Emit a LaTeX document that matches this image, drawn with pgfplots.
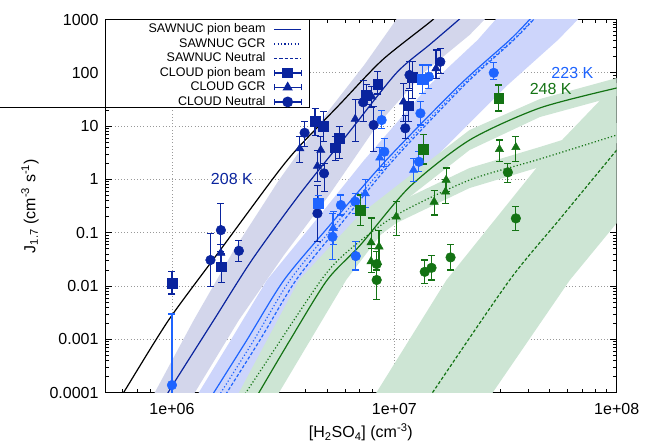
\documentclass[border=0pt]{standalone}
\usepackage{fontspec}
\setmainfont{Liberation Sans}
\usepackage{pgfplots}
\usepackage{pgfplotstable}
\pgfplotsset{compat=1.18}

\definecolor{cA}{RGB}{10,36,158}
\definecolor{cB}{RGB}{30,100,255}
\definecolor{cC}{RGB}{20,115,20}
\definecolor{bA}{RGB}{211,214,235}
\definecolor{bB}{RGB}{205,213,251}
\definecolor{bC}{RGB}{205,229,212}

\pgfplotsset{
  table/errtab/.style={x=x,y=y,y error plus expr=\thisrow{hi}-\thisrow{y},y error minus expr=\thisrow{y}-\thisrow{lo}},
  pts/.style={only marks, color=#1, mark options={solid, fill=#1, draw=#1, line width=0.5pt},
    error bars/y dir=both, error bars/y explicit,
    error bars/error bar style={line width=1.1pt, color=#1, solid},
    error bars/error mark options={rotate=90, mark size=3.5pt, line width=1.1pt, color=#1, solid}},
  legline/.style={legend image code/.code={\draw[##1] (0pt,0pt) -- (27pt,0pt);}},
  legmark/.style={legend image code/.code={%
    \draw[##1, mark repeat=2, mark phase=2] plot coordinates {(0pt,0pt) (13.5pt,0pt) (27pt,0pt)};
    \draw[##1, mark=none] (0pt,-3pt) -- (0pt,3pt) (27pt,-3pt) -- (27pt,3pt);}},
  dotl/.style={dash pattern=on 1.2pt off 2.2pt},
  dashl/.style={dash pattern=on 3.2pt off 2pt},
  mline/.style={line width=1.2pt, smooth, tension=0.45, forget plot},
}

% 208 K
\pgfplotstableread{
x y lo hi
1e6 0.0112 0.0071 0.0186
1.671e6 0.023 0.0115 0.04
4.40e6 12.5 6.8 21.6
4.80e6 10.0 5.1 18.6
5.42e6 3.94 2.3 6.3
5.65e6 5.9 2.5 9.8
7.47e6 38.3 25 60
8.41e6 60.8 40 105
1.16e7 24.2 12.1 47.5
1.202e7 82 33 161
}\pionA
\pgfplotstableread{
x y lo hi
1.66e6 0.0416 0.028 0.06
3.76e6 3.8 2.1 6.5
4.67e6 3.56 1.86 6.3
4.51e6 1.78 0.9 3.5
6.67e6 13.6 5.1 31
7.93e6 35.6 22 55
1.10e7 28.7 12.1 63.5
1.54e7 121 79 268
}\gcrA
\pgfplotstableread{
x y lo hi
1.49e6 0.0308 0.0097 0.0975
1.66e6 0.112 0.045 0.356
2.0e6 0.0459 0.0294 0.0708
3.95e6 7.5 4.1 12.1
4.83e6 1.30 0.59 2.0
4.51e6 0.231 0.068 0.785
7.24e6 28 12.1 73
8.07e6 10.5 3.3 23
1.12e7 9.1 5.9 16
1.17e7 91 50 160
1.61e7 161 98 288
}\neuA
% 223 K
\pgfplotstableread{
x y lo hi
4.54e6 0.356 0.25 0.5
1.334e7 76.5 41 140
}\pionB
\pgfplotstableread{
x y lo hi
5.31e6 0.122 0.06 0.25
7.4e6 0.548 0.3 1.0
8.6e6 2.55 1.5 4.0
1.22e7 1.50 0.91 2.49
}\gcrB
\pgfplotstableread{
x y lo hi
1.0e6 1.39e-4 1e-5 0.003
5.27e6 0.084 0.031 0.23
5.75e6 0.331 0.215 0.51
6.67e6 0.382 0.23 0.55
6.71e6 0.0365 0.02 0.068
8.77e6 13.0 9.2 20
9.02e6 3.31 1.73 5.9
1.29e7 2.15 1.4 3.3
1.31e7 17.4 10.5 28.7
1.43e7 84.5 51 140
2.80e7 100 75.5 155
}\neuB
% 248 K
\pgfplotstableread{
x y lo hi
7.03e6 0.267 0.139 0.51
1.35e7 3.72 1.95 7.0
2.95e7 33.2 19.2 59
}\pionC
\pgfplotstableread{
x y lo hi
7.86e6 0.0655 0.027 0.189
8.53e6 0.055 0.025 0.11
7.86e6 0.029 0.018 0.05
1.02e7 0.20 0.09 0.38
1.51e7 0.38 0.215 0.63
1.70e7 0.588 0.35 1.0
1.71e7 0.975 0.6 1.64
2.97e7 3.67 2.15 5.5
3.52e7 4.0 2.15 6.3
}\gcrC
\pgfplotstableread{
x y lo hi
8.33e6 0.0259 0.015 0.045
8.33e6 0.013 0.0055 0.02
1.37e7 0.0185 0.0112 0.0308
1.47e7 0.022 0.013 0.037
1.79e7 0.0345 0.02 0.0605
3.24e7 1.36 0.87 2.0
3.52e7 0.186 0.112 0.31
}\neuC

\begin{document}
\begin{tikzpicture}
\begin{axis}[
  name=ax,
  xmode=log, ymode=log,
  scale only axis, width=511.7pt, height=373.2pt,
  xmin=5e5, xmax=1e8, ymin=1e-4, ymax=1000,
  xtick={1e6,1e7,1e8}, xticklabels={1e+06,1e+07,1e+08},
  ytick={1e-4,1e-3,1e-2,1e-1,1,10,100,1000},
  yticklabels={0.0001,0.001,0.01,0.1,1,10,100,1000},
  minor xtick={6e5,7e5,8e5,9e5,2e6,3e6,4e6,5e6,6e6,7e6,8e6,9e6,2e7,3e7,4e7,5e7,6e7,7e7,8e7,9e7},
  minor ytick={2e-4,3e-4,4e-4,5e-4,6e-4,7e-4,8e-4,9e-4,2e-3,3e-3,4e-3,5e-3,6e-3,7e-3,8e-3,9e-3,
    2e-2,3e-2,4e-2,5e-2,6e-2,7e-2,8e-2,9e-2,0.2,0.3,0.4,0.5,0.6,0.7,0.8,0.9,2,3,4,5,6,7,8,9,
    20,30,40,50,60,70,80,90,200,300,400,500,600,700,800,900},
  tick align=inside,
  major tick length=7pt, minor tick length=4pt,
  every tick/.style={black, line width=0.8pt},
  axis line style={line width=1pt},
  grid=major,
  major grid style={line width=0.8pt, gray!80, dash pattern=on 0.8pt off 2.4pt},
  tick label style={font=\fontsize{16}{19}\selectfont},
  xticklabel style={yshift=-7pt},
  yticklabel style={xshift=-3pt},
  xlabel={[H\textsubscript{2}SO\textsubscript{4}] (cm\textsuperscript{-3})},
  ylabel={J\textsubscript{1.7} (cm\textsuperscript{-3} s\textsuperscript{-1})},
  label style={font=\fontsize{16}{19}\selectfont},
  xlabel style={at={(axis description cs:0.5,-0.1058)}, anchor=center},
  ylabel style={at={(axis description cs:-0.1466,0.5)}, anchor=center},
  legend plot pos=right,
  legend cell align=right,
  legend style={at={(axis description cs:0.3987,1)}, anchor=north east, draw=none, fill=none,
    font=\fontsize{12.5}{14}\selectfont, inner xsep=7pt, inner ysep=3pt, row sep=1pt,
    nodes={inner sep=1pt, text height=9pt, text depth=2.5pt},
    /tikz/every odd column/.append style={column sep=7pt}},
]
% legend entries
\addlegendimage{legline, cA, line width=1.3pt}
\addlegendentry{SAWNUC pion beam}
\addlegendimage{legline, cA, line width=1.3pt, dotl}
\addlegendentry{SAWNUC GCR}
\addlegendimage{legline, cA, line width=1.3pt, dashl}
\addlegendentry{SAWNUC Neutral}
\addlegendimage{legmark, cA, line width=1.2pt, mark=square*, mark size=4.8pt, mark options={solid, fill=cA}}
\addlegendentry{CLOUD pion beam}
\addlegendimage{legmark, cA, line width=1.2pt, mark=triangle*, mark size=4.8pt, mark options={solid, fill=cA}}
\addlegendentry{CLOUD GCR}
\addlegendimage{legmark, cA, line width=1.2pt, mark=*, mark size=4.8pt, mark options={solid, fill=cA}}
\addlegendentry{CLOUD Neutral}

% bands
\addplot[fill=bA, draw=none, forget plot] coordinates {
(7.69e5,5.85e-5) (8.36e5,1e-4) (1.253e6,2.30e-3) (1.898e6,0.0473) (3.029e6,0.975) (5.09e6,20.0) (7.32e6,140) (1.021e7,1000) (1.110e7,1871)
(2.826e7,1871) (2.547e7,1000) (2.179e7,512) (1.366e7,103.5) (8.38e6,10.5) (5.09e6,0.509) (3.19e6,0.0382) (2.0e6,2.30e-3) (1.266e6,1e-4) (1.141e6,5.85e-5)} -- cycle;
\addplot[fill=bB, draw=none, forget plot] coordinates {
(1.214e6,5.85e-5) (1.319e6,1e-4) (1.839e6,9.7e-4) (2.674e6,0.01297) (4.223e6,0.1336) (7.32e6,2.31) (1.439e7,59.0) (2.368e7,412) (2.855e7,1000) (3.134e7,1871)
(7.58e7,1871) (6.69e7,1000) (5.437e7,412) (3.233e7,59.0) (1.484e7,2.31) (7.96e6,0.1336) (4.935e6,0.01297) (3.291e6,9.7e-4) (2.336e6,1e-4) (2.149e6,5.85e-5)} -- cycle;
\addplot[fill=bC, draw=none, forget plot] coordinates {
(1.839e6,5.85e-5) (2.0e6,1e-4) (3.728e6,0.01297) (6.95e6,0.215) (1.169e7,1.158) (2.179e7,8.45) (4.508e7,32.2) (1e8,79.9) (1.414e8,103.5)
(1.414e8,43.6) (1e8,36.7) (4.508e7,14.8) (2.179e7,3.56) (1.169e7,0.468) (6.07e6,0.01297) (3.029e6,1e-4) (2.786e6,5.85e-5)} -- cycle;
\addplot[fill=bC, draw=none, forget plot] coordinates {
(4.686e6,0.0218) (6.263e6,0.0796) (1.021e7,0.361) (2.179e7,1.64) (4.508e7,4.06) (1e8,11.4) (1.414e8,15.5)
(1.414e8,6.52) (1e8,4.82) (4.508e7,1.71) (2.179e7,0.690) (1.021e7,0.152) (6.263e6,0.0335) (4.686e6,0.00917)} -- cycle;
\addplot[fill=bC, draw=none, forget plot] coordinates {
(7.72e6,5.85e-5) (8.30e6,1e-4) (1.716e7,0.0130) (4.651e7,2.31) (1e8,64.4) (1.414e8,292)
(1.414e8,0.785) (1e8,0.152) (6.158e7,0.0130) (2.767e7,1e-4) (2.547e7,5.85e-5)} -- cycle;

% model lines
\addplot[black, mline] coordinates {
(5.75e5,7.3e-5) (6.055e5,1e-4) (9.66e5,2.30e-3) (1.624e6,0.0435) (2.927e6,1.21) (3.728e6,4.11) (5.65e6,25.0) (8.83e6,174) (1.484e7,979) (1.6e7,1500)};
\addplot[cA, mline] coordinates {
(9.0e5,6.3e-5) (1.007e6,1.39e-4) (1.542e6,2.30e-3) (2.288e6,0.0308) (3.728e6,0.509) (6.263e6,7.71) (1.021e7,99.1) (1.439e7,335) (1.904e7,910) (2.05e7,1200)};
\addplot[cB, mline] coordinates {
(1.48e6,7.6e-5) (1.542e6,1e-4) (2.172e6,9.7e-4) (3.19e6,0.01297) (5.09e6,0.1336) (9.20e6,2.31) (1.965e7,59.0) (3.302e7,412) (4.063e7,1000) (4.4e7,1400)};
\addplot[cB, mline, dotl] coordinates {
(1.6e6,7.6e-5) (1.659e6,1e-4) (2.336e6,9.7e-4) (3.395e6,0.01297) (5.363e6,0.1336) (9.59e6,2.31) (2.026e7,59.0) (3.406e7,412) (4.193e7,1000) (4.5e7,1400)};
\addplot[cB, mline, dashl] coordinates {
(1.70e6,7.6e-5) (1.765e6,1e-4) (2.486e6,9.7e-4) (3.614e6,0.01297) (5.65e6,0.1336) (9.90e6,2.31) (2.069e7,59.0) (3.442e7,412) (4.236e7,1000) (4.55e7,1400)};
\addplot[cC, mline] coordinates {
(2.38e6,7.9e-5) (2.46e6,1e-4) (3.395e6,9.7e-4) (4.987e6,0.01297) (7.03e6,0.0587) (1.169e7,0.719) (2.179e7,5.48) (4.508e7,21.9) (1e8,51.9)};
\addplot[cC, mline, dotl] coordinates {
(2.05e6,7.5e-5) (2.149e6,1e-4) (2.46e6,2.33e-4) (4.686e6,0.01297) (6.263e6,0.0473) (1.021e7,0.215) (2.179e7,0.975) (4.508e7,2.41) (1e8,6.81)};
\addplot[cC, mline, dashl] coordinates {
(1.366e7,5.85e-5) (1.484e7,1e-4) (3.302e7,0.0130) (5.55e7,0.181) (1e8,3.56)};

% data points
\addplot[pts=cA, mark=square*, mark size=4.8pt, forget plot] table[errtab] {\pionA};
\addplot[pts=cA, mark=triangle*, mark size=4.8pt, forget plot] table[errtab] {\gcrA};
\addplot[pts=cA, mark=*, mark size=4.8pt, forget plot] table[errtab] {\neuA};
\addplot[pts=cB, mark=square*, mark size=4.8pt, forget plot] table[errtab] {\pionB};
\addplot[pts=cB, mark=triangle*, mark size=4.8pt, forget plot] table[errtab] {\gcrB};
\addplot[pts=cB, mark=*, mark size=4.8pt, forget plot] table[errtab] {\neuB};
\addplot[pts=cC, mark=square*, mark size=4.8pt, forget plot] table[errtab] {\pionC};
\addplot[pts=cC, mark=triangle*, mark size=4.8pt, forget plot] table[errtab] {\gcrC};
\addplot[pts=cC, mark=*, mark size=4.8pt, forget plot] table[errtab] {\neuC};

% temperature labels
\node[text=cA, font=\fontsize{16}{19}\selectfont] at (axis cs:1.86e6,1.0) {208 K};
\node[text=cB, font=\fontsize{16}{19}\selectfont] at (axis cs:6.32e7,98) {223 K};
\node[text=cC, font=\fontsize{16}{19}\selectfont] at (axis cs:5.05e7,49) {248 K};

% legend box
\draw[line width=1pt, fill=white] (axis description cs:0,1) rectangle (axis description cs:0.3987,0.7629);
\end{axis}
\draw[line width=1pt] ([yshift=-88.5pt]ax.north west) -- ++(-105pt,0);
\pgfresetboundingbox
\path[use as bounding box] ([shift={(-105pt,-49.3pt)}]ax.south west) rectangle ([shift={(28.3pt,19.5pt)}]ax.north east);
\end{tikzpicture}
\end{document}
